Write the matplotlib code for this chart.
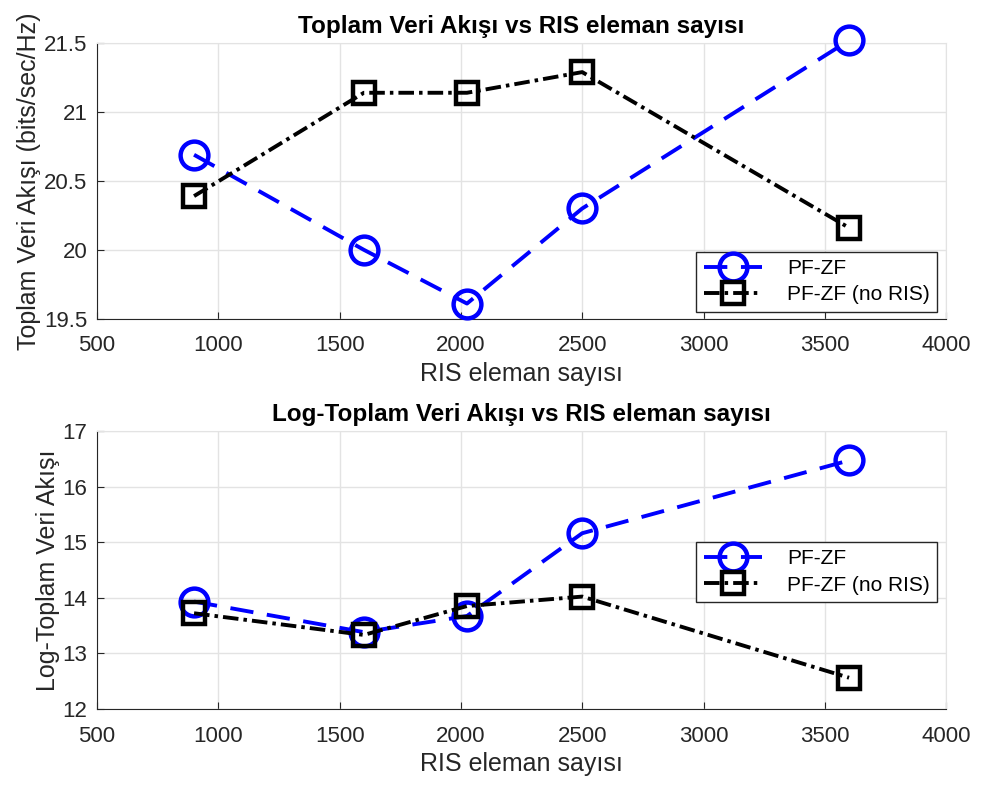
import matplotlib.pyplot as plt

plt.rcParams['font.family'] = ['Liberation Sans', 'DejaVu Sans']

ris_elements = [900, 1600, 2025, 2500, 3600]

# Toplam veri akisi (bits/sec/Hz)
sum_rate_pfzf = [20.69, 20.00, 19.61, 20.30, 21.52]
sum_rate_noris = [20.39, 21.14, 21.14, 21.29, 20.16]

# Log-toplam veri akisi
log_rate_pfzf = [13.93, 13.38, 13.67, 15.16, 16.47]
log_rate_noris = [13.72, 13.33, 13.85, 14.02, 12.56]

series_labels = ["PF-ZF", "PF-ZF (no RIS)"]

fig = plt.figure(figsize=(9.85, 7.85), dpi=100)
ax1 = fig.add_axes([0.0985, 0.594, 0.862, 0.351])
ax2 = fig.add_axes([0.0985, 0.097, 0.862, 0.354])


def draw(ax, y_pf, y_nr, title, ylabel, ylim, yticks, legend_loc):
    ax.plot(ris_elements, y_pf, color='blue', linestyle=(0, (6, 3.5)), linewidth=2.8,
            marker='o', markersize=20, markerfacecolor='none', markeredgewidth=3.2,
            label=series_labels[0], clip_on=False, zorder=3)
    ax.plot(ris_elements, y_nr, color='black', linestyle=(0, (4, 1.3, 0.9, 1.3)), linewidth=2.8,
            marker='s', markersize=16, markerfacecolor='none', markeredgewidth=3.2,
            label=series_labels[1], clip_on=False, zorder=3)
    ax.set_xlim(500, 4000)
    ax.set_ylim(*ylim)
    ax.set_yticks(yticks)
    ax.set_xticks(range(500, 4001, 500))
    ax.grid(True, color='#e3e3e3', linewidth=1)
    ax.set_axisbelow(True)
    for s in ('top', 'right'):
        ax.spines[s].set_color('#e3e3e3')
    for s in ('left', 'bottom'):
        ax.spines[s].set_color('#262626')
    ax.tick_params(axis='y', pad=7)
    ax.tick_params(axis='x', pad=12)
    ax.tick_params(direction='in', labelsize=16, colors='#262626', length=5,
                   top=False, right=False)
    ax.set_title(title, fontsize=17.5, fontweight='bold', pad=7)
    ax.set_xlabel("RIS eleman sayısı", fontsize=18, color='#262626', labelpad=4)
    ax.set_ylabel(ylabel, fontsize=18, color='#262626', labelpad=2)
    leg = ax.legend(loc='upper left', bbox_to_anchor=legend_loc, fontsize=15,
                    handlelength=2.8, handletextpad=1.2, borderpad=0.35,
                    labelspacing=0.35, borderaxespad=0, fancybox=False, framealpha=1)
    leg.get_frame().set_edgecolor('#262626')
    leg.get_frame().set_linewidth(1)


draw(ax1, sum_rate_pfzf, sum_rate_noris, "Toplam Veri Akışı vs RIS eleman sayısı",
     "Toplam Veri Akışı (bits/sec/Hz)", (19.5, 21.5), [19.5, 20, 20.5, 21, 21.5],
     (0.706, 0.243))
ax1.set_yticklabels(["19.5", "20", "20.5", "21", "21.5"])
draw(ax2, log_rate_pfzf, log_rate_noris, "Log-Toplam Veri Akışı vs RIS eleman sayısı",
     "Log-Toplam Veri Akışı", (12, 17), [12, 13, 14, 15, 16, 17],
     (0.706, 0.60))

fig.savefig("out.png", dpi=100)
